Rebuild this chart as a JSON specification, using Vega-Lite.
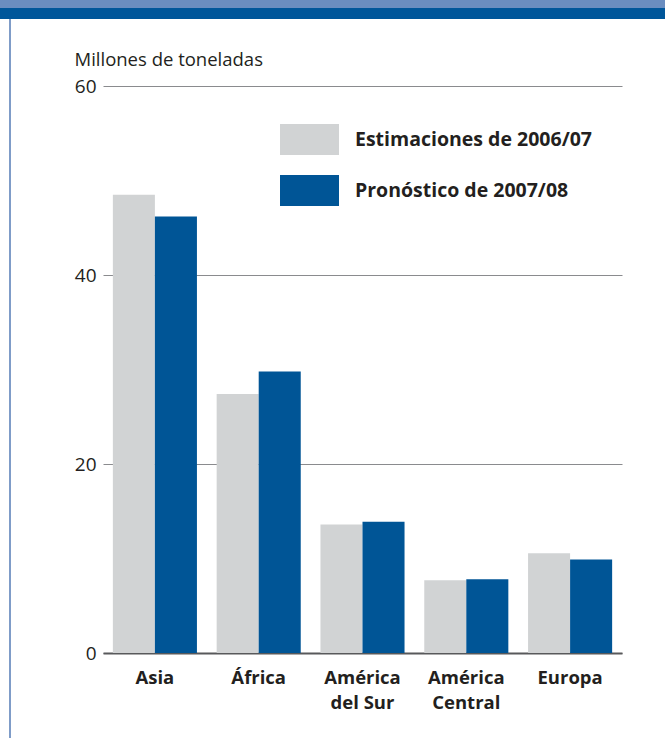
{
  "$schema": "https://vega.github.io/schema/vega-lite/v6.json",
  "padding": 0,
  "background": "white",
  "config": {
    "font": "Open Sans",
    "view": {"stroke": null},
    "concat": {"spacing": 0}
  },
  "spacing": 0,
  "bounds": "flush",
  "vconcat": [
    {"width": 665, "height": 8, "data": {"values": []}, "mark": "point", "view": {"fill": "#6a8dc0", "stroke": null}},
    {"width": 665, "height": 11, "data": {"values": []}, "mark": "point", "view": {"fill": "#00569a", "stroke": null}},
    {
      "spacing": 0,
      "bounds": "flush",
      "hconcat": [
        {"width": 9, "height": 719, "data": {"values": []}, "mark": "point"},
        {"width": 2, "height": 719, "data": {"values": []}, "mark": "point", "view": {"fill": "#7f9cc8", "stroke": null}},
        {"width": 92, "height": 719, "data": {"values": []}, "mark": "point"},
        {
          "spacing": 0,
          "bounds": "flush",
          "vconcat": [
            {"width": 519, "height": 67, "data": {"values": []}, "mark": "point"},
            {
              "width": 519,
              "height": 567,
              "data": {
                "values": [
                  {"region": "Asia", "series": "Estimaciones de 2006/07", "value": 48.5},
                  {"region": "Asia", "series": "Pronóstico de 2007/08", "value": 46.2},
                  {"region": "África", "series": "Estimaciones de 2006/07", "value": 27.4},
                  {"region": "África", "series": "Pronóstico de 2007/08", "value": 29.8},
                  {"region": "América del Sur", "series": "Estimaciones de 2006/07", "value": 13.6},
                  {"region": "América del Sur", "series": "Pronóstico de 2007/08", "value": 13.9},
                  {"region": "América Central", "series": "Estimaciones de 2006/07", "value": 7.7},
                  {"region": "América Central", "series": "Pronóstico de 2007/08", "value": 7.8},
                  {"region": "Europa", "series": "Estimaciones de 2006/07", "value": 10.55},
                  {"region": "Europa", "series": "Pronóstico de 2007/08", "value": 9.9}
                ]
              },
              "mark": {"type": "bar"},
              "encoding": {
                "x": {
                  "field": "region",
                  "type": "nominal",
                  "sort": ["Asia", "África", "América del Sur", "América Central", "Europa"],
                  "scale": {"paddingInner": 0.19, "paddingOuter": 0.095},
                  "axis": {
                    "title": null,
                    "labelAngle": 0,
                    "labelFontSize": 18.5,
                    "labelFontWeight": "bold",
                    "labelColor": "#231f20",
                    "labelPadding": 15,
                    "labelLineHeight": 25,
                    "labelExpr": "datum.value == 'América del Sur' ? ['América', 'del Sur'] : datum.value == 'América Central' ? ['América', 'Central'] : datum.value",
                    "ticks": false,
                    "domain": true,
                    "domainColor": "#58595b",
                    "domainWidth": 2,
                    "grid": false
                  }
                },
                "xOffset": {
                  "field": "series",
                  "type": "nominal",
                  "sort": ["Estimaciones de 2006/07", "Pronóstico de 2007/08"]
                },
                "y": {
                  "field": "value",
                  "type": "quantitative",
                  "scale": {"domain": [0, 60], "nice": false},
                  "axis": {
                    "values": [0, 20, 40, 60],
                    "title": "Millones de toneladas",
                    "titleAngle": 0,
                    "titleAlign": "left",
                    "titleBaseline": "alphabetic",
                    "titleX": -29,
                    "titleY": -21,
                    "titleFontSize": 18.5,
                    "titleFontWeight": "normal",
                    "titleColor": "#231f20",
                    "labelFontSize": 19,
                    "labelColor": "#231f20",
                    "labelPadding": 7,
                    "domain": false,
                    "ticks": false,
                    "grid": true,
                    "gridColor": "#8a8b8e",
                    "gridWidth": 1
                  }
                },
                "color": {
                  "field": "series",
                  "type": "nominal",
                  "scale": {
                    "domain": ["Estimaciones de 2006/07", "Pronóstico de 2007/08"],
                    "range": ["#d1d3d4", "#005596"]
                  },
                  "legend": {
                    "title": null,
                    "orient": "none",
                    "legendX": 280,
                    "legendY": 110,
                    "symbolType": "M-1,-0.525H1V0.525H-1Z",
                    "symbolSize": 3481,
                    "symbolStrokeWidth": 0,
                    "symbolOpacity": 1,
                    "labelFontSize": 19.5,
                    "labelFontWeight": "bold",
                    "labelColor": "#231f20",
                    "labelOffset": 16,
                    "labelLimit": 400,
                    "rowPadding": 6
                  }
                }
              }
            }
          ]
        }
      ]
    }
  ]
}
